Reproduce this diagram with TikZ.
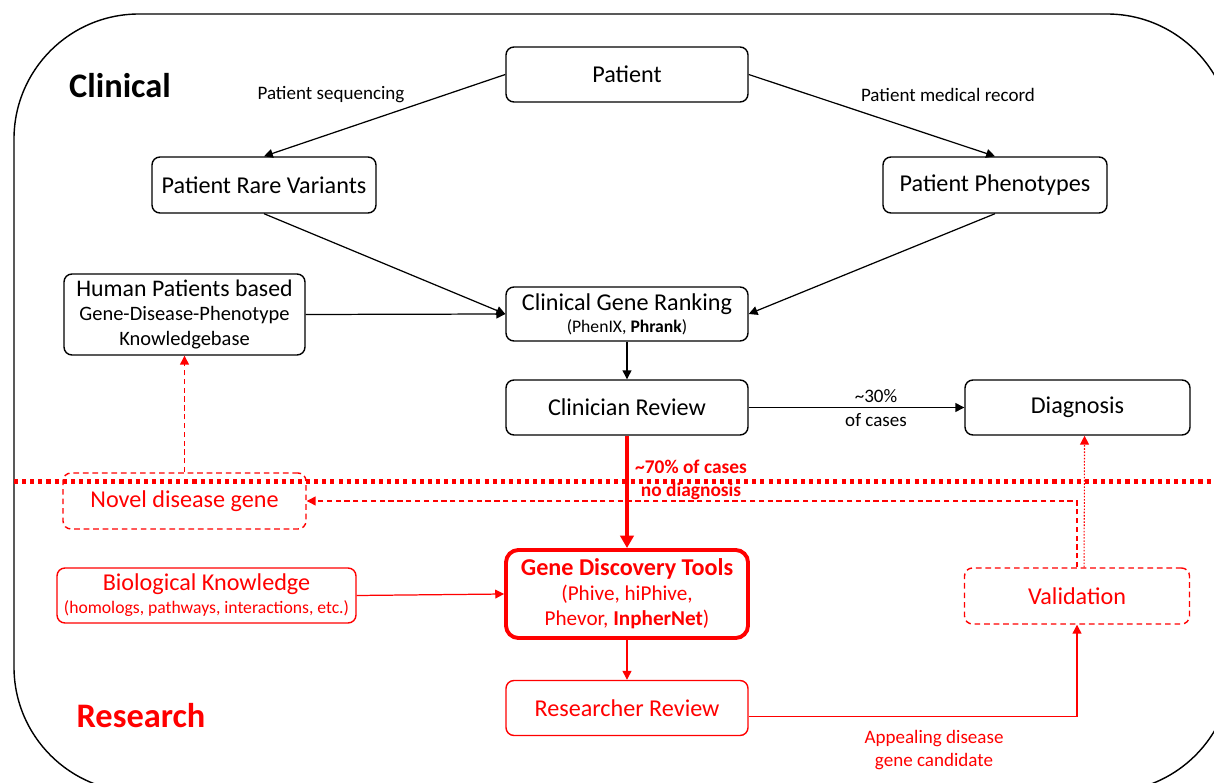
\documentclass[tikz,border=0pt]{standalone}
\usepackage{fontspec}
\setmainfont{Carlito}
\usetikzlibrary{arrows.meta}
\newcommand\pxu{0.567pt}
\definecolor{rred}{RGB}{255,0,0}
\begin{document}
\begin{tikzpicture}[x=0.567pt,y=-0.567pt,
  box/.style={draw, rounded corners=4.5pt, line width=0.8pt, inner sep=0pt, align=center,
    minimum width=242*\pxu, minimum height=55*\pxu, font=\fontsize{13.7}{16}\selectfont},
  rbox/.style={box, draw=rred, text=rred},
  dbox/.style={rbox, dash pattern=on 3.2pt off 2.2pt},
  arr/.style={line width=0.7pt, -{Triangle[length=5pt,width=5pt]}},
  rarr/.style={arr, draw=rred},
  lbl/.style={inner sep=0pt, align=center, font=\fontsize{10.8}{13.5}\selectfont},
  rlbl/.style={lbl, text=rred},
  head/.style={inner sep=0pt, font=\fontsize{19.5}{22}\selectfont\bfseries}
]
\useasboundingbox (0,0) rectangle (1214,783);
\begin{scope}
\clip (0,0) rectangle (1214,783);
\draw[line width=0.8pt, rounded corners=125*\pxu] (14,14) rectangle (1232,792);
\end{scope}

% headings
\node[head] (clin) at (120,86) {Clinical};
\node[head, text=rred] (res) at (141,716) {Research};

% clinical nodes
\node[box] (patient) at (627,74.5) {Patient};
\node[box, minimum width=224*\pxu, minimum height=56*\pxu] (rare) at (264,185) {Patient Rare Variants};
\node[box, minimum width=224*\pxu, minimum height=56*\pxu] (pheno) at (995,185) {Patient Phenotypes};
\node[box, minimum width=241*\pxu, minimum height=81*\pxu] (human) at (184.5,314.5)
  {{\fontsize{13.5}{15}\selectfont Human Patients based}\\[-2.5pt]
   {\fontsize{11.6}{14}\selectfont Gene-Disease-Phenotype}\\[-1.5pt]
   {\fontsize{11.6}{14}\selectfont Knowledgebase}};
\node[box, minimum height=54*\pxu] (cgr) at (627,314)
  {Clinical Gene Ranking\\[-3.5pt]{\fontsize{10}{12}\selectfont (PhenIX, \textbf{Phrank})}};
\node[box] (crev) at (627,407.5) {Clinician Review};
\node[box, minimum width=225*\pxu] (diag) at (1077.5,407.5) {Diagnosis};

% separator
\draw[rred, line width=2.3pt, dash pattern=on 2.3pt off 2.3pt] (14,481.5) coordinate (sepL) -- (1214,481.5) coordinate (sepR);

% research nodes
\node[dbox, minimum width=243*\pxu, minimum height=56*\pxu] (novel) at (184.5,501) {Novel disease gene};
\node[rbox, minimum width=299*\pxu, minimum height=55*\pxu] (bio) at (206.5,595.5)
  {Biological Knowledge\\[-3pt]{\fontsize{10}{12}\selectfont (homologs, pathways, interactions, etc.)}};
\node[rbox, line width=2.2pt, rounded corners=7pt, minimum width=242*\pxu, minimum height=88*\pxu] (gdt) at (627,594)
  {{\fontsize{13.7}{15}\selectfont\bfseries Gene Discovery Tools}\\[-2pt]
   {\fontsize{12}{13.5}\selectfont (Phive, hiPhive,}\\[-1.5pt]
   {\fontsize{12}{13.5}\selectfont Phevor, \textbf{InpherNet})}};
\node[rbox] (rrev) at (627,708) {Researcher Review};
\node[dbox, minimum width=225*\pxu, minimum height=56*\pxu] (val) at (1077,596) {Validation};

% labels
\node[lbl] (l1) at (331,95) {Patient sequencing};
\node[lbl] (l2) at (948,95) {Patient medical record};
\node[lbl] (l3) at (876,396) {\textasciitilde 30\%};
\node[lbl] (l4) at (876,420) {of cases};
\node[rlbl, font=\fontsize{11}{13}\selectfont\bfseries] (l5) at (691,467) {\textasciitilde 70\% of cases};
\node[rlbl, font=\fontsize{11}{13}\selectfont\bfseries] (l6) at (691,491) {no diagnosis};
\node[rlbl] (l7) at (934,750) {Appealing disease\\gene candidate};

% black connectors
\draw[arr] (patient.west) -- (rare.north);
\draw[arr] (patient.east) -- (pheno.north);
\draw[arr] (rare.south) -- (cgr.west);
\draw[arr] (pheno.south) -- (cgr.east);
\draw[arr] (human.east) -- (cgr.west);
\draw[arr] (cgr.south) -- (crev.north);
\draw[arr] (crev.east) -- (diag.west);

% red connectors
\draw[rarr, line width=2.3pt, -{Triangle[length=7pt,width=7.5pt]}] (crev.south) -- (gdt.north);
\draw[rarr] (bio.east) -- (gdt.west);
\draw[rarr] (gdt.south) -- (rrev.north);
\draw[rarr] ([yshift=-5pt]rrev.east) -| (val.south);
\draw[rarr, dash pattern=on 0.9pt off 0.9pt, line width=0.6pt] ([xshift=4pt]val.north) -- ([xshift=4pt]diag.south);
\draw[rarr, dash pattern=on 3pt off 2pt] (val.north) |- (novel.east);
\draw[rarr, dash pattern=on 3pt off 2pt] (novel.north) -- (human.south);
\end{tikzpicture}
\end{document}
